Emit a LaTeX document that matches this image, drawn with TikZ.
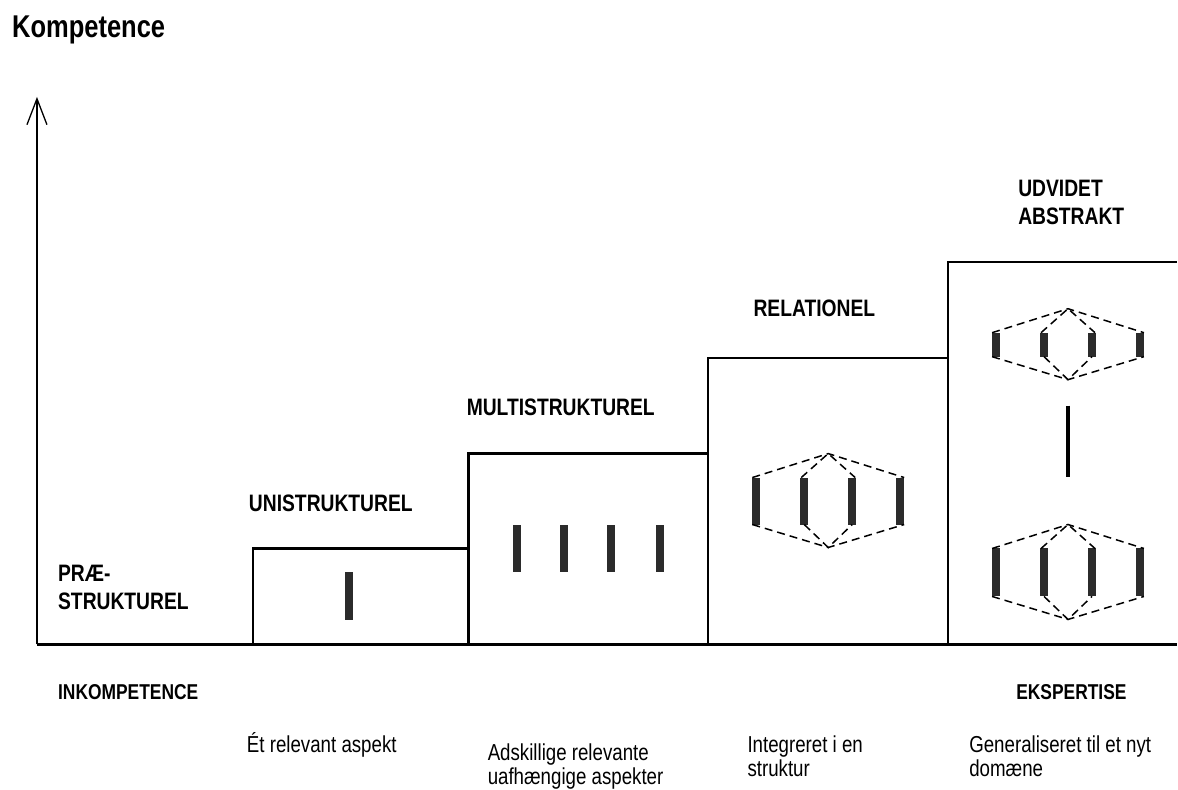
\documentclass[tikz,border=0pt]{standalone}
\usepackage{fontspec}
\setmainfont{Liberation Sans}
\usetikzlibrary{arrows.meta}

\definecolor{bjaelke}{HTML}{2B2B2B}
% smal skrift: originalen er presset vandret
\newcommand\nar[1]{\scalebox{0.81}[1]{#1}}
% struktur: midte, bjælketop, bjælkebund
\newcommand\struktur[3]{%
  \foreach \dx in {-72,-24,24,72}{%
    \fill[bjaelke] ({#1+\dx-4},#2) rectangle ({#1+\dx+4},#3);}
  \draw[stiplet] ({#1-76},#2) -- (#1,{#2-24}) -- ({#1+76},#2);
  \draw[stiplet] ({#1-27},#2) -- (#1,{#2-24}) -- ({#1+27},#2);
  \draw[stiplet] ({#1-76},#3) -- (#1,{#3+23}) -- ({#1+76},#3);
  \draw[stiplet] ({#1-24},#3) -- (#1,{#3+23}) -- ({#1+24},#3);
}

\begin{document}
\begin{tikzpicture}[x=1pt, y=-1pt, line join=miter,
  kasse/.style={line width=2.2pt},
  stiplet/.style={line width=1.5pt, dash pattern=on 8pt off 5pt},
  niveau/.style={anchor=base west, inner sep=0pt, align=left,
    font=\fontsize{23.8}{28}\selectfont\bfseries},
  pol/.style={anchor=base west, inner sep=0pt,
    font=\fontsize{21.5}{24}\selectfont\bfseries},
  beskrivelse/.style={anchor=base west, inner sep=0pt, align=left,
    font=\fontsize{23.1}{24}\selectfont}]

  % ==== akser ====
  \draw[line width=1.3pt, -{Straight Barb[length=26pt,width=20pt]}] (37,645) -- (37,97);
  \draw[kasse] (37,645) -- (1178,645);

  % ==== trappe ====
  \draw[kasse] (253,645) -- (253,549) -- (469,549) -- (469,645);
  \draw[kasse] (469,549) -- (469,454) -- (709,454) -- (709,645);
  \draw[kasse] (709,454) -- (709,358) -- (949,358) -- (949,645);
  \draw[kasse] (949,358) -- (949,262) -- (1178,262);

  % ==== bjælker ====
  \fill[bjaelke] (345,573) rectangle (353,621);
  \foreach \x in {517,565,612,661}
    \fill[bjaelke] ({\x-4},525) rectangle ({\x+4},573);
  \struktur{829}{478}{525}
  \struktur{1069}{333}{357}
  \struktur{1069}{549}{597}
  \draw[line width=4pt] (1069,406) -- (1069,477);

  % ==== tekster (base = sidste linjes grundlinje) ====
  \node[anchor=base west, inner sep=0pt, font=\fontsize{31.5}{36}\selectfont\bfseries]
    (kompetence) at (12,38) {\nar{Kompetence}};
  \node[niveau] (praestruktur) at (58,610) {\nar{PRÆ-}\\\nar{STRUKTUREL}};
  \node[niveau] (unistruktur) at (249,512) {\nar{UNISTRUKTUREL}};
  \node[niveau] (multistruktur) at (467,416) {\nar{MULTISTRUKTUREL}};
  \node[niveau] (relationel) at (754,317) {\nar{RELATIONEL}};
  \node[niveau] (udvidet) at (1019,225) {\nar{UDVIDET}\\\nar{ABSTRAKT}};

  \node[pol] (inkompetence) at (58,700) {\nar{INKOMPETENCE}};
  \node[pol] (ekspertise) at (1017,700) {\nar{EKSPERTISE}};

  \node[beskrivelse] (uni) at (247,753) {\nar{Ét relevant aspekt}};
  \node[beskrivelse] (multi) at (488,785) {\nar{Adskillige relevante}\\\nar{uafhængige aspekter}};
  \node[beskrivelse] (rel) at (748,777) {\nar{Integreret i en}\\\nar{struktur}};
  \node[beskrivelse] (abstr) at (970,777) {\nar{Generaliseret til et nyt}\\\nar{domæne}};

  \path[use as bounding box] (0,0) rectangle (1178,780);
\end{tikzpicture}
\end{document}
